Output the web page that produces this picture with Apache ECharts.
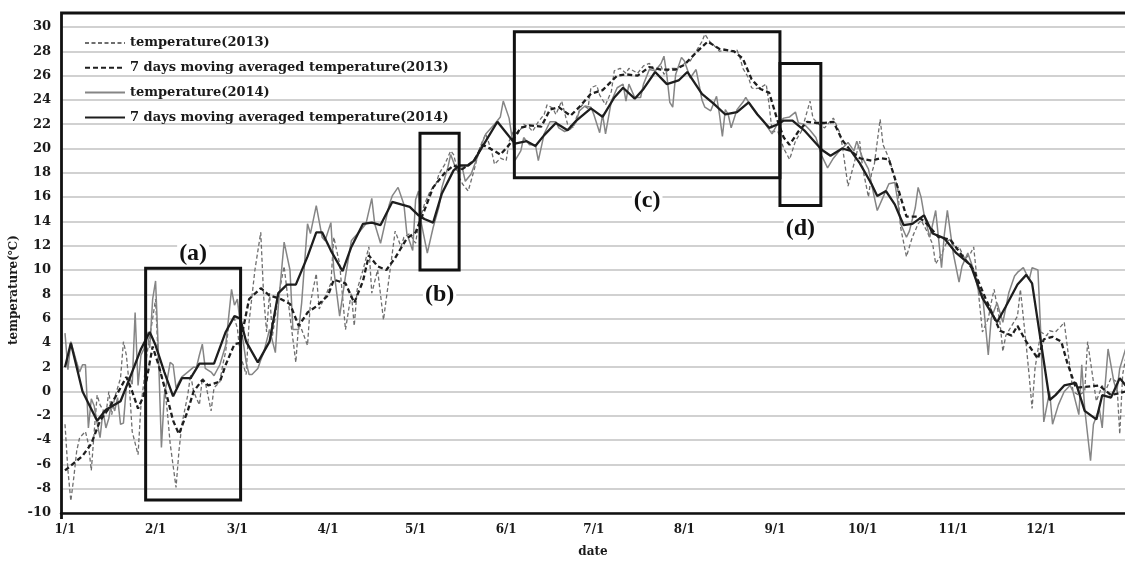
<!DOCTYPE html>
<html>
<head>
<meta charset="utf-8">
<script src="https://cdn.jsdelivr.net/npm/echarts@6/dist/echarts.min.js"></script>
<style>html,body{margin:0;padding:0;background:#fff;}#c{width:1125px;height:563px;}</style>
</head>
<body>
<div id="c"></div>
<script>
// ---- data (day index from 1/1, value in °C) ----
const monthStarts = [0, 31, 59, 90, 120, 151, 181, 212, 243, 273, 304, 334];
const monthLabels = ['1/1','2/1','3/1','4/1','5/1','6/1','7/1','8/1','9/1','10/1','11/1','12/1'];
const yTicks = [-10,-8,-6,-4,-2,0,2,4,6,8,10,12,14,16,18,20,22,24,26,28,30];

const seriesNames = ['temperature(2013)', '7 days moving averaged temperature(2013)', 'temperature(2014)', '7 days moving averaged temperature(2014)'];

const t13Days = [0,1,2,3,4,5,7,8,9,10,11,12,14,15,16,17,19,20,21,22,23,25,26,27,28,30,31,32,34,35,36,38,39,40,42,43,44,46,47,48,50,51,53,54,55,56,58,59,60,62,63,65,67,68,69,70,71,73,75,77,79,80,81,83,84,86,87,89,91,92,94,96,98,99,100,102,104,105,107,109,111,113,115,116,118,120,121,123,125,127,128,130,132,133,135,136,138,140,142,144,146,147,149,151,152,154,155,157,159,160,162,164,165,167,168,170,172,174,175,177,179,180,182,183,185,187,188,190,192,193,196,198,200,202,204,205,207,209,211,212,214,216,218,219,221,223,224,226,228,230,231,232,234,235,236,238,240,241,242,244,246,248,250,252,253,255,256,258,260,261,263,265,266,268,270,272,273,275,276,277,279,280,282,284,285,286,288,290,292,293,295,297,298,300,302,303,305,306,308,310,311,313,314,316,317,318,320,321,322,324,326,327,329,330,331,332,334,336,337,339,341,342,344,345,347,349,350,352,353,355,356,358,360,361,362,363];
const t13Vals = [-2.7,-6.5,-9.0,-7.1,-4.9,-3.8,-3.3,-4.3,-6.5,-3.3,-0.3,-1.1,-1.9,0.0,-1.9,-0.5,1.1,4.1,3.0,0.5,-3.3,-5.2,-1.1,0.8,3.0,6.0,7.6,2.2,0.5,-1.6,-4.3,-7.9,-4.9,-2.7,-0.3,1.4,0.0,-1.1,1.1,0.8,-1.6,0.3,0.8,2.2,3.3,5.4,6.0,5.2,3.0,1.4,5.7,10.0,13.1,7.8,4.9,8.1,4.6,7.8,10.3,6.2,2.4,5.7,5.1,3.8,7.3,9.7,6.8,7.8,8.9,12.7,10.5,5.1,8.1,5.4,8.4,10.0,11.9,8.1,10.0,5.9,9.5,13.2,11.9,12.7,13.0,12.2,13.8,15.4,16.5,17.1,17.9,18.7,19.8,19.5,17.6,17.1,16.5,18.2,20.1,21.2,19.8,18.7,19.2,19.0,20.6,21.7,21.2,22.0,21.7,21.4,22.2,22.8,23.6,23.3,22.8,23.9,22.0,21.7,22.5,23.6,23.3,25.0,25.2,24.4,23.6,24.7,26.4,26.6,26.2,26.6,26.2,26.8,27.0,26.4,26.8,26.1,26.6,26.6,26.8,27.0,27.2,28.0,28.8,29.4,28.7,28.3,28.0,28.1,28.0,28.1,27.5,26.6,25.8,25.0,24.9,25.0,25.3,23.6,21.4,21.4,20.0,19.1,20.6,21.4,22.2,23.9,22.5,22.0,21.7,22.0,22.5,21.4,20.3,16.9,18.7,20.6,18.4,16.0,17.9,18.7,22.4,20.3,19.2,17.6,16.8,13.5,11.1,12.7,13.8,14.1,13.2,12.1,10.5,11.3,12.4,12.5,11.7,11.9,10.9,11.4,11.9,7.3,4.9,6.0,7.3,8.4,5.7,3.3,4.6,5.4,6.2,8.4,3.8,1.3,-1.4,1.9,4.9,4.6,5.0,4.9,5.4,5.7,1.9,0.0,-0.3,0.0,4.1,0.8,-0.8,0.5,0.0,1.1,0.8,-3.5,1.4,2.7];

const ma13Days = [0,4,6,9,12,15,19,21,23,25,27,29,30,32,35,37,39,42,44,47,49,53,55,58,60,63,67,70,74,77,80,83,86,90,92,96,99,102,104,107,110,113,117,120,123,126,130,133,136,140,143,147,149,152,156,159,163,166,169,173,176,180,184,189,192,196,200,204,209,212,216,220,224,229,232,235,238,241,244,246,248,251,254,257,260,263,266,269,272,276,279,282,285,288,292,295,299,303,307,311,315,320,324,326,329,333,335,338,341,343,346,350,354,358,363];
const ma13Vals = [-6.5,-5.7,-5.3,-4.3,-2.4,-1.4,0.3,1.2,0.0,-1.4,-0.3,2.4,3.7,2.2,-0.5,-2.4,-3.5,-1.6,0.0,0.95,0.5,0.8,2.2,3.9,4.0,7.6,8.5,7.9,7.6,7.2,5.4,6.5,7.0,7.9,9.2,8.9,7.3,9.1,11.2,10.3,10.0,11.0,12.6,13.1,14.9,16.8,18.0,18.6,18.3,19.0,20.3,19.8,19.5,20.3,21.7,21.9,21.8,23.2,23.4,22.7,23.4,24.5,24.8,26.0,26.1,26.0,26.7,26.5,26.5,26.9,27.9,28.8,28.2,28.0,27.4,25.7,24.9,24.6,22.2,20.9,20.3,21.4,22.2,22.1,22.1,22.2,20.7,19.8,19.2,19.0,19.2,19.1,16.8,14.4,14.4,13.8,12.7,12.5,11.2,10.0,7.7,5.0,4.6,5.4,4.1,2.7,4.3,4.5,4.1,2.4,0.3,0.4,0.5,-0.3,0.0];

const t14Days = [0,1,2,4,5,6,7,8,9,10,11,12,13,14,15,16,17,18,19,20,21,22,23,24,25,26,27,28,29,30,31,32,33,34,35,36,37,38,39,40,42,44,45,46,47,48,50,51,53,55,57,58,59,60,61,62,63,64,66,67,68,70,72,73,75,77,78,80,81,83,84,86,88,89,91,92,94,96,98,99,101,103,105,106,108,111,112,114,116,117,119,120,121,122,124,126,128,129,131,132,134,136,137,139,141,143,144,147,149,150,152,153,154,156,157,159,161,162,164,166,168,169,171,173,175,176,178,180,181,183,184,185,187,189,191,192,193,195,197,198,200,202,204,205,206,207,208,209,211,212,214,216,217,218,219,221,223,224,225,226,227,228,230,232,233,235,237,239,240,242,244,246,248,250,251,253,255,257,259,261,263,265,266,268,270,271,273,275,277,278,280,282,284,285,286,288,289,291,292,293,294,296,298,300,301,302,304,306,307,309,311,313,314,316,317,319,321,323,325,326,328,330,331,333,334,335,337,338,340,342,344,345,347,348,349,351,352,354,355,356,357,359,360,361,363];
const t14Vals = [4.8,1.8,4.1,2.4,1.6,2.2,2.2,-3.0,-0.6,-1.2,-2.6,-3.8,-1.6,-3.0,-2.2,-0.8,-1.6,-0.5,-2.7,-2.6,0.4,1.2,0.6,6.5,0.5,3.0,3.5,4.9,3.6,7.6,9.1,3.0,-4.6,-0.3,1.0,2.4,2.2,0.3,0.8,1.2,1.6,2.0,2.0,3.0,3.9,1.9,1.6,1.3,2.2,3.8,8.4,7.1,7.6,5.5,4.1,2.4,1.4,1.4,1.9,2.6,3.2,5.1,3.2,7.0,12.3,10.0,5.1,5.1,7.3,13.8,13.0,15.3,12.7,12.4,13.9,10.0,6.2,9.5,12.4,12.7,13.2,13.8,15.9,13.8,12.2,15.4,16.1,16.8,15.4,13.0,11.6,15.8,16.5,13.8,11.4,13.5,15.2,16.8,18.4,19.5,18.2,18.4,17.3,17.9,19.2,20.6,21.2,22.0,22.6,23.9,22.5,20.9,19.0,19.8,20.9,20.3,20.3,19.0,21.2,22.2,22.2,21.7,21.4,21.6,22.2,23.1,23.5,23.4,22.8,21.3,22.8,21.2,23.9,25.0,25.3,23.9,25.3,24.2,24.2,25.3,26.5,26.4,27.0,27.6,26.0,23.8,23.4,26.1,27.5,27.2,25.8,26.5,25.3,24.0,23.4,23.1,24.3,22.8,21.0,23.2,22.8,21.7,23.2,23.8,24.2,23.4,22.8,22.3,21.9,21.2,22.1,22.5,22.6,23.0,22.1,22.0,21.5,20.9,19.4,18.4,19.2,19.8,20.0,20.5,19.8,20.6,19.2,18.3,16.0,14.9,16.0,17.1,17.2,15.7,13.8,12.7,13.2,15.1,16.8,16.0,14.6,12.7,14.9,10.2,13.0,14.9,11.4,9.0,10.3,11.4,10.0,7.9,8.1,3.0,6.0,7.3,5.7,8.1,9.5,9.8,10.2,9.2,10.2,10.0,4.6,-2.5,0.0,-2.7,-1.1,0.0,0.5,0.0,-1.9,2.2,-1.4,-5.7,-2.7,-1.4,-3.0,0.5,3.5,0.8,0.0,1.9,3.5];

const ma14Days = [0,2,6,11,14,19,22,26,29,31,34,37,40,43,46,51,55,58,60,62,66,70,73,76,79,83,86,88,91,95,98,102,105,108,112,118,121,123,126,129,133,135,138,140,144,148,151,154,158,161,164,168,172,175,180,184,188,191,195,198,202,206,210,213,218,222,226,230,234,237,241,244,246,249,253,259,262,266,269,272,276,278,281,284,287,290,294,297,301,305,310,314,319,322,326,329,331,334,337,339,342,346,349,353,355,358,361,363];
const ma14Vals = [2.0,4.0,0.0,-2.4,-1.5,-0.8,1.0,3.5,4.9,3.8,1.6,-0.4,1.1,1.1,2.3,2.3,4.9,6.2,6.0,4.1,2.4,4.1,8.1,8.8,8.8,11.1,13.1,13.1,11.6,9.9,11.9,13.8,13.9,13.7,15.6,15.2,14.5,14.2,13.9,16.3,18.2,18.6,18.6,19.0,20.6,22.2,21.3,20.4,20.6,20.2,21.1,22.1,21.5,22.3,23.3,22.6,24.2,25.0,24.1,24.9,26.3,25.3,25.6,26.3,24.5,23.7,22.8,23.0,23.8,22.8,21.7,22.0,22.3,22.3,21.5,19.9,19.4,20.0,19.8,18.8,17.1,16.1,16.5,15.4,13.7,13.8,14.5,13.0,12.6,11.4,10.4,7.7,5.7,7.0,8.8,9.6,8.9,4.1,-0.7,-0.3,0.5,0.7,-1.6,-2.3,-0.3,-0.5,1.1,0.5];

// annotation boxes (data coordinates)
const boxLabels = ['(a)', '(b)', '(c)', '(d)'];
const boxDay0 = [27.6, 121.5, 153.8, 244.7];
const boxDay1 = [60.1, 134.9, 244.7, 258.7];
const boxTop = [10.15, 21.26, 29.6, 27.0];
const boxBottom = [-8.94, 10.0, 17.6, 15.3];
const boxLabelPos = ['top', 'bottom', 'bottom', 'bottom'];
const boxLabelDist = [1, 11, 10, 10];

// ---- build ----
const pairs = (d, v) => d.map((x, i) => [x, v[i]]);
const serif = 'DejaVu Serif';

const markAreaData = boxLabels.map((lab, i) => [
  { name: lab, xAxis: boxDay0[i], yAxis: boxTop[i],
    label: { show: true, position: boxLabelPos[i], distance: boxLabelDist[i], formatter: lab,
      fontFamily: 'Liberation Serif', fontWeight: 'bold', fontSize: 24, color: '#111',
      backgroundColor: '#fff', padding: [0, 2] } },
  { xAxis: boxDay1[i], yAxis: boxBottom[i] }
]);

const chart = echarts.init(document.getElementById('c'), null, { renderer: 'canvas' });
chart.setOption({
  animation: false,
  backgroundColor: '#fff',
  grid: { left: 61, right: 0, top: 27, bottom: 44, containLabel: false },
  legend: {
    orient: 'vertical', left: 79, top: 30,
    itemWidth: 40, itemHeight: 14, itemGap: 8.8,
    data: seriesNames,
    itemStyle: { opacity: 0 },
    textStyle: { fontFamily: serif, fontWeight: 'bold', fontSize: 13, color: '#1a1a1a', lineHeight: 16 }
  },
  xAxis: {
    type: 'value', min: -1.37, max: 362.8,
    name: 'date', nameLocation: 'middle', nameGap: 33,
    nameTextStyle: { fontFamily: serif, fontWeight: 'bold', fontSize: 12, color: '#1a1a1a' },
    axisLine: { show: true, onZero: false, lineStyle: { color: '#111', width: 2.5 } },
    axisTick: { show: false },
    splitLine: { show: false },
    axisLabel: {
      customValues: monthStarts, margin: 11,
      formatter: v => monthLabels[monthStarts.indexOf(v)] || '',
      fontFamily: serif, fontWeight: 'bold', fontSize: 12, color: '#1a1a1a'
    }
  },
  yAxis: {
    type: 'value', min: -10, max: 30, interval: 2,
    axisLine: { show: false },
    axisTick: { show: false },
    axisLabel: { margin: 10, fontFamily: serif, fontWeight: 'bold', fontSize: 13, color: '#1a1a1a',
      formatter: v => (yTicks.indexOf(v) >= 0 ? String(v) : '') },
    splitLine: { lineStyle: { color: '#c2c2c2', width: 1.6 } }
  },
  graphic: [
    { type: 'polyline', z: 100, shape: { points: [[61.5, 519], [61.5, 13], [1125, 13]] },
      style: { stroke: '#111', lineWidth: 2.8, fill: null } },
    { type: 'text', z: 100, x: 14, y: 290, rotation: Math.PI / 2,
      style: { text: 'temperature(℃)', fontFamily: serif, fontWeight: 'bold', fontSize: 12,
        fill: '#1a1a1a', align: 'center', verticalAlign: 'middle' } }
  ],
  series: [
    { name: seriesNames[0], type: 'line', symbol: 'none', data: pairs(t13Days, t13Vals), z: 2,
      lineStyle: { color: '#6e6e6e', width: 1.3, type: [4, 2.5] }, itemStyle: { color: '#6e6e6e' } },
    { name: seriesNames[1], type: 'line', symbol: 'none', data: pairs(ma13Days, ma13Vals), z: 4,
      lineStyle: { color: '#1e1e1e', width: 2.3, type: [5, 3] }, itemStyle: { color: '#1e1e1e' } },
    { name: seriesNames[2], type: 'line', symbol: 'none', data: pairs(t14Days, t14Vals), z: 3,
      lineStyle: { color: '#858585', width: 1.5 }, itemStyle: { color: '#858585' } },
    { name: seriesNames[3], type: 'line', symbol: 'none', data: pairs(ma14Days, ma14Vals), z: 5,
      lineStyle: { color: '#1e1e1e', width: 2.3 }, itemStyle: { color: '#1e1e1e' },
      markArea: { silent: true, z: 6,
        itemStyle: { color: 'rgba(0,0,0,0)', borderColor: '#111', borderWidth: 3 },
        data: markAreaData } }
  ]
});
</script>
</body>
</html>
